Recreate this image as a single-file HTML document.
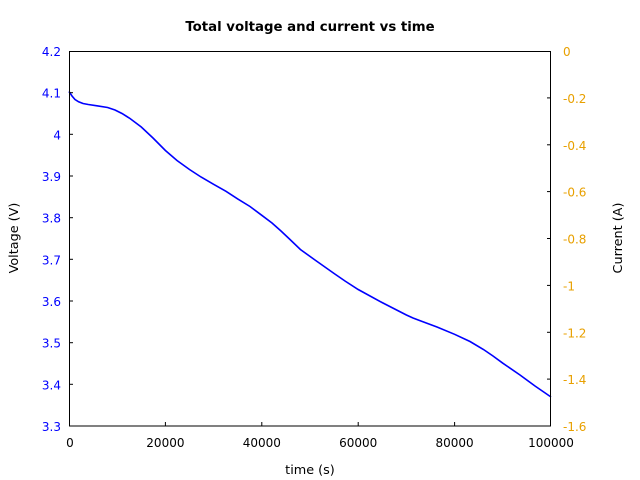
<!DOCTYPE html>
<html><head><style>body{margin:0;background:#fff}svg{display:block}</style></head><body>
<svg width="640" height="480" xmlns="http://www.w3.org/2000/svg" font-family="DejaVu Sans, Liberation Sans, sans-serif" font-size="12">
<rect width="640" height="480" fill="#fff"/>
<text x="310" y="31" text-anchor="middle" font-weight="bold" font-size="13.3">Total voltage and current vs time</text>
<polyline fill="none" stroke="#0000ff" stroke-width="1.6" points="69,91.5 72,96 75,99.5 78.6,101.8 83,103.5 88.3,104.5 97,105.8 107.6,107.5 115,110 122,113.5 130,118.5 141.3,127 153,138 165.4,150.5 177,160.5 189.5,169.5 201,177 213.6,184.3 226,191.3 237.7,198.9 250,206.5 261.8,215.3 272,223 281,231 290,239.5 300.4,249.5 315,260 334.1,273.5 345,281 358.2,289.5 382,302.5 406.4,315 413,318 420.9,321 437,327 454.6,334.3 470,341.5 483.5,349.5 493,356 502.8,363.2 520,375 535,386 551,397"/>
<rect x="69.5" y="51.5" width="481" height="374.5" fill="none" stroke="#000" stroke-width="1"/>
<g stroke="#000" stroke-width="1">
<line x1="69" y1="92.7" x2="73" y2="92.7"/><line x1="69" y1="134.3" x2="73" y2="134.3"/><line x1="69" y1="176" x2="73" y2="176"/><line x1="69" y1="217.7" x2="73" y2="217.7"/><line x1="69" y1="259.3" x2="73" y2="259.3"/><line x1="69" y1="301" x2="73" y2="301"/><line x1="69" y1="342.7" x2="73" y2="342.7"/><line x1="69" y1="384.3" x2="73" y2="384.3"/>
<line x1="551" y1="97.9" x2="547" y2="97.9"/><line x1="551" y1="144.8" x2="547" y2="144.8"/><line x1="551" y1="191.6" x2="547" y2="191.6"/><line x1="551" y1="238.5" x2="547" y2="238.5"/><line x1="551" y1="285.4" x2="547" y2="285.4"/><line x1="551" y1="332.3" x2="547" y2="332.3"/><line x1="551" y1="379.1" x2="547" y2="379.1"/>
<line x1="165.4" y1="426" x2="165.4" y2="422"/><line x1="261.8" y1="426" x2="261.8" y2="422"/><line x1="358.2" y1="426" x2="358.2" y2="422"/><line x1="454.6" y1="426" x2="454.6" y2="422"/>
</g>
<g fill="#0000ff" text-anchor="end">
<text x="61" y="56">4.2</text><text x="61" y="97.7">4.1</text><text x="61" y="139.3">4</text><text x="61" y="181">3.9</text><text x="61" y="222.7">3.8</text><text x="61" y="264.3">3.7</text><text x="61" y="306">3.6</text><text x="61" y="347.7">3.5</text><text x="61" y="389.3">3.4</text><text x="61" y="431">3.3</text>
</g>
<g fill="#e8a000" text-anchor="start">
<text x="563" y="56">0</text><text x="563" y="102.9">-0.2</text><text x="563" y="149.8">-0.4</text><text x="563" y="196.6">-0.6</text><text x="563" y="243.5">-0.8</text><text x="563" y="290.4">-1</text><text x="563" y="337.3">-1.2</text><text x="563" y="384.1">-1.4</text><text x="563" y="431">-1.6</text>
</g>
<g text-anchor="middle" font-size="12.8">
<text x="70" y="447" font-size="12">0</text><text x="165.4" y="447" font-size="12">20000</text><text x="261.8" y="447" font-size="12">40000</text><text x="358.2" y="447" font-size="12">60000</text><text x="454.6" y="447" font-size="12">80000</text><text x="551" y="447" font-size="12">100000</text>
<text x="310" y="474">time (s)</text>
<text transform="translate(18,238) rotate(-90)">Voltage (V)</text>
<text transform="translate(622,238) rotate(-90)">Current (A)</text>
</g>
</svg>
</body></html>
